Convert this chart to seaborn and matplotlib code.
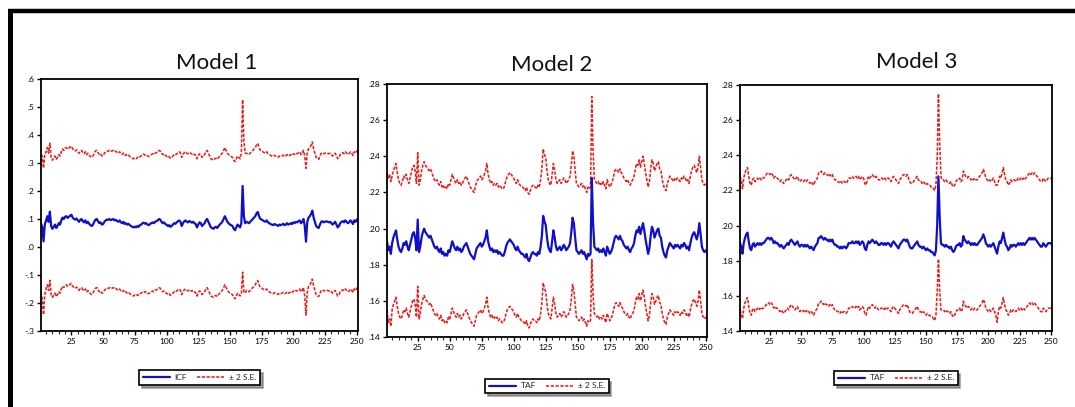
import numpy as np
import pandas as pd
import matplotlib
matplotlib.use("Agg")
import matplotlib.pyplot as plt
import seaborn as sns
from matplotlib.lines import Line2D
from matplotlib.ticker import MultipleLocator

sns.set_style("white")
plt.rcParams['font.family'] = ['Lato', 'DejaVu Sans']

# ---------------- data ----------------
titles = ["Model 1", "Model 2", "Model 3"]
series_names = ["ICF", "TAF", "TAF"]
band_label = "± 2 S.E."
x_ticks = [25, 50, 75, 100, 125, 150, 175, 200, 225, 250]
x_tick_labels = ["25", "50", "75", "100", "125", "150", "175", "200", "225", "250"]
y_ticks_1 = [-0.3, -0.2, -0.1, 0.0, 0.1, 0.2, 0.3, 0.4, 0.5, 0.6]
y_labels_1 = ["-.3", "-.2", "-.1", ".0", ".1", ".2", ".3", ".4", ".5", ".6"]
y_ticks_23 = [0.14, 0.16, 0.18, 0.20, 0.22, 0.24, 0.26, 0.28]
y_labels_23 = [".14", ".16", ".18", ".20", ".22", ".24", ".26", ".28"]

# Model 1 forecast (ICF), observations 1..251
center_1 = [
    .085, .070, .020, .080, .095, .110, .090, .126, .075, .065,
    .072, .080, .068, .075, .085, .080, .095, .105, .100, .108,
    .110, .104, .108, .112, .115, .105, .100, .098, .102, .095,
    .090, .097, .100, .092, .088, .095, .085, .090, .083, .078,
    .075, .080, .090, .098, .100, .092, .085, .088, .080, .082,
    .090, .095, .098, .097, .100, .096, .098, .100, .095, .097,
    .093, .090, .095, .088, .085, .090, .082, .085, .080, .083,
    .078, .075, .072, .070, .073, .070, .075, .072, .078, .080,
    .085, .087, .083, .085, .080, .078, .082, .085, .088, .085,
    .090, .092, .095, .100, .098, .090, .085, .088, .082, .080,
    .075, .078, .072, .075, .080, .085, .083, .088, .092, .095,
    .090, .075, .085, .092, .095, .090, .088, .093, .090, .087,
    .090, .085, .082, .070, .080, .088, .085, .075, .080, .085,
    .095, .100, .090, .080, .070, .068, .065, .070, .072, .068,
    .075, .080, .085, .090, .100, .110, .100, .090, .085, .080,
    .078, .075, .065, .060, .070, .080, .075, .070, .085, .218,
    .110, .085, .090, .088, .085, .090, .095, .100, .105, .110,
    .120, .125, .110, .100, .098, .095, .092, .090, .095, .088,
    .085, .082, .080, .078, .082, .080, .078, .075, .080, .078,
    .080, .083, .078, .080, .085, .080, .082, .085, .082, .088,
    .085, .090, .088, .092, .095, .085, .090, .100, .075, .019,
    .090, .105, .110, .118, .130, .105, .090, .075, .070, .068,
    .080, .090, .092, .088, .090, .092, .090, .088, .090, .085,
    .080, .085, .090, .080, .070, .075, .085, .090, .092, .088,
    .095, .090, .085, .088, .095, .090, .082, .095, .090, .098,
    .090,
]
# two standard errors (band half-width), Model 1
se2_1 = [
    .245, .255, .262, .250, .245, .245, .245, .245, .245, .245,
    .245, .245, .245, .245, .245, .245, .245, .245, .245, .245,
    .245, .245, .245, .245, .245, .245, .245, .245, .245, .245,
    .245, .245, .245, .245, .245, .245, .245, .245, .245, .245,
    .245, .245, .245, .245, .245, .245, .245, .245, .245, .245,
    .245, .245, .245, .245, .245, .245, .245, .245, .245, .245,
    .245, .245, .245, .245, .245, .245, .245, .245, .245, .245,
    .245, .245, .245, .245, .245, .245, .245, .245, .245, .245,
    .245, .245, .245, .245, .245, .245, .245, .245, .245, .245,
    .245, .245, .245, .245, .245, .245, .245, .245, .245, .245,
    .245, .245, .245, .245, .245, .245, .245, .245, .245, .245,
    .245, .245, .245, .245, .245, .245, .245, .245, .245, .245,
    .245, .245, .245, .245, .245, .245, .245, .245, .245, .245,
    .245, .245, .245, .245, .245, .245, .245, .245, .245, .245,
    .245, .245, .245, .245, .245, .245, .245, .245, .245, .245,
    .245, .245, .245, .245, .245, .245, .245, .245, .250, .308,
    .270, .250, .245, .245, .245, .245, .245, .245, .245, .245,
    .245, .245, .245, .245, .245, .245, .245, .245, .245, .245,
    .245, .245, .245, .245, .245, .245, .245, .245, .245, .245,
    .245, .245, .245, .245, .245, .245, .245, .245, .245, .245,
    .245, .245, .245, .245, .245, .245, .245, .245, .250, .262,
    .250, .245, .245, .245, .245, .245, .245, .245, .245, .245,
    .245, .245, .245, .245, .245, .245, .245, .245, .245, .245,
    .245, .245, .245, .245, .245, .245, .245, .245, .245, .245,
    .245, .245, .245, .245, .245, .245, .245, .245, .245, .245,
    .245,
]

# Model 2 forecast (TAF)
center_2 = [
    .193, .188, .190, .186, .192, .195, .197, .199, .194, .190,
    .188, .187, .189, .192, .191, .193, .190, .188, .191, .194,
    .197, .198, .195, .188, .205, .187, .190, .195, .198, .200,
    .198, .197, .196, .195, .196, .194, .192, .190, .189, .190,
    .188, .187, .189, .186, .187, .185, .186, .185, .188, .187,
    .190, .193, .191, .189, .188, .190, .188, .189, .187, .188,
    .190, .191, .192, .190, .188, .186, .185, .184, .183, .186,
    .189, .190, .191, .192, .190, .191, .193, .195, .199, .193,
    .190, .188, .189, .187, .188, .187, .188, .186, .187, .186,
    .185, .185, .187, .190, .192, .193, .194, .193, .192, .191,
    .189, .188, .190, .188, .187, .186, .186, .185, .184, .186,
    .183, .182, .184, .186, .187, .186, .186, .185, .187, .186,
    .190, .196, .207, .204, .202, .195, .190, .188, .187, .193,
    .199, .195, .190, .188, .189, .190, .188, .189, .191, .190,
    .188, .189, .190, .192, .198, .206, .203, .195, .188, .187,
    .186, .187, .188, .186, .187, .185, .183, .186, .185, .186,
    .228, .203, .190, .189, .188, .189, .187, .188, .187, .189,
    .187, .185, .190, .188, .186, .187, .189, .192, .195, .196,
    .195, .194, .196, .194, .193, .191, .190, .189, .190, .188,
    .187, .189, .190, .192, .196, .199, .198, .201, .197, .200,
    .203, .199, .194, .190, .186, .189, .196, .201, .199, .195,
    .197, .199, .200, .196, .195, .190, .187, .185, .184, .188,
    .190, .192, .191, .190, .189, .191, .190, .191, .190, .189,
    .191, .190, .192, .191, .189, .190, .188, .192, .195, .197,
    .198, .196, .194, .197, .203, .197, .190, .188, .187, .188,
    .187,
]
se2_2 = [
    .038, .040, .040, .040, .037, .037, .037, .037, .037, .037,
    .037, .037, .037, .037, .037, .037, .037, .037, .037, .037,
    .037, .037, .037, .037, .037, .037, .037, .037, .037, .037,
    .037, .037, .037, .037, .037, .037, .037, .037, .037, .037,
    .037, .037, .037, .037, .037, .037, .037, .037, .037, .037,
    .037, .037, .037, .037, .037, .037, .037, .037, .037, .037,
    .037, .037, .037, .037, .037, .037, .037, .037, .037, .037,
    .037, .037, .037, .037, .037, .037, .037, .037, .037, .037,
    .037, .037, .037, .037, .037, .037, .037, .037, .037, .037,
    .037, .037, .037, .037, .037, .037, .037, .037, .037, .037,
    .037, .037, .037, .037, .037, .037, .037, .037, .037, .037,
    .037, .037, .037, .037, .037, .037, .037, .037, .037, .037,
    .037, .037, .037, .037, .037, .037, .037, .037, .037, .037,
    .037, .037, .037, .037, .037, .037, .037, .037, .037, .037,
    .037, .037, .037, .037, .037, .037, .037, .037, .037, .037,
    .037, .037, .037, .037, .037, .037, .037, .037, .037, .037,
    .045, .040, .037, .037, .037, .037, .037, .037, .037, .037,
    .037, .037, .037, .037, .037, .037, .037, .037, .037, .037,
    .037, .037, .037, .037, .037, .037, .037, .037, .037, .037,
    .037, .037, .037, .037, .037, .037, .037, .037, .037, .037,
    .037, .037, .037, .037, .037, .037, .037, .037, .037, .037,
    .037, .037, .037, .037, .037, .037, .037, .037, .037, .037,
    .037, .037, .037, .037, .037, .037, .037, .037, .037, .037,
    .037, .037, .037, .037, .037, .037, .037, .037, .037, .037,
    .037, .037, .037, .037, .037, .037, .037, .037, .037, .037,
    .037,
]

# Model 3 forecast (TAF)
center_3 = [
    .190, .188, .184, .190, .193, .195, .196, .191, .187, .186,
    .189, .190, .188, .189, .190, .189, .190, .189, .190, .190,
    .191, .192, .193, .193, .192, .193, .192, .190, .191, .190,
    .190, .189, .188, .189, .188, .187, .188, .189, .190, .189,
    .191, .192, .191, .190, .189, .190, .191, .189, .188, .189,
    .189, .188, .189, .188, .189, .188, .187, .188, .187, .186,
    .188, .189, .190, .193, .193, .194, .193, .192, .193, .192,
    .192, .191, .192, .191, .192, .190, .189, .189, .188, .188,
    .187, .188, .187, .188, .188, .187, .188, .190, .190, .190,
    .191, .190, .190, .191, .190, .191, .189, .190, .191, .190,
    .187, .186, .189, .191, .190, .191, .192, .191, .190, .191,
    .190, .189, .189, .190, .190, .189, .190, .189, .190, .190,
    .189, .188, .190, .191, .190, .189, .188, .187, .189, .190,
    .191, .192, .192, .191, .192, .190, .188, .187, .187, .188,
    .189, .190, .191, .189, .188, .188, .187, .188, .187, .186,
    .187, .186, .186, .185, .185, .184, .183, .186, .200, .228,
    .205, .190, .189, .189, .188, .189, .188, .188, .187, .188,
    .186, .185, .186, .188, .189, .189, .190, .188, .189, .194,
    .192, .191, .190, .191, .190, .189, .190, .189, .190, .189,
    .189, .190, .191, .192, .193, .195, .193, .190, .189, .188,
    .189, .188, .189, .190, .188, .186, .184, .188, .191, .190,
    .193, .196, .192, .189, .188, .186, .187, .189, .188, .189,
    .189, .188, .189, .190, .189, .190, .189, .190, .189, .190,
    .191, .192, .193, .192, .193, .192, .193, .192, .191, .190,
    .189, .188, .188, .190, .189, .188, .189, .190, .190, .190,
    .189,
]
se2_3 = [
    .038, .038, .037, .037, .037, .037, .037, .037, .037, .037,
    .037, .037, .037, .037, .037, .037, .037, .037, .037, .037,
    .037, .037, .037, .037, .037, .037, .037, .037, .037, .037,
    .037, .037, .037, .037, .037, .037, .037, .037, .037, .037,
    .037, .037, .037, .037, .037, .037, .037, .037, .037, .037,
    .037, .037, .037, .037, .037, .037, .037, .037, .037, .037,
    .037, .037, .037, .037, .037, .037, .037, .037, .037, .037,
    .037, .037, .037, .037, .037, .037, .037, .037, .037, .037,
    .037, .037, .037, .037, .037, .037, .037, .037, .037, .037,
    .037, .037, .037, .037, .037, .037, .037, .037, .037, .037,
    .037, .037, .037, .037, .037, .037, .037, .037, .037, .037,
    .037, .037, .037, .037, .037, .037, .037, .037, .037, .037,
    .037, .037, .037, .037, .037, .037, .037, .037, .037, .037,
    .037, .037, .037, .037, .037, .037, .037, .037, .037, .037,
    .037, .037, .037, .037, .037, .037, .037, .037, .037, .037,
    .037, .037, .037, .037, .037, .037, .037, .037, .038, .047,
    .042, .038, .037, .037, .037, .037, .037, .037, .037, .037,
    .037, .037, .037, .037, .037, .037, .037, .037, .037, .037,
    .037, .037, .037, .037, .037, .037, .037, .037, .037, .037,
    .037, .037, .037, .037, .037, .037, .037, .037, .037, .037,
    .037, .037, .037, .037, .037, .037, .039, .037, .037, .037,
    .037, .037, .037, .037, .037, .037, .037, .037, .037, .037,
    .037, .037, .037, .037, .037, .037, .037, .037, .037, .037,
    .037, .037, .037, .037, .037, .037, .037, .037, .037, .037,
    .037, .037, .037, .037, .037, .037, .037, .037, .037, .037,
    .037,
]

# ---------------- figure ----------------
W, H = 1075, 407
fig = plt.figure(figsize=(W / 100, H / 100), dpi=100)
fig.patch.set_facecolor("white")

def fx(px):
    return px / W

def fy(py):
    return 1 - py / H

# axes boxes in pixel coords: left, top, right, bottom
boxes = [(41, 79, 358, 331), (387, 84, 707, 337), (740, 85, 1052, 331)]
title_pos = [(217, 63), (552, 65), (917, 62)]
legend_pos = [(199.5, 377.5), (547, 386), (896, 378)]
centers = [center_1, center_2, center_3]
se2s = [se2_1, se2_2, se2_3]
yticks = [y_ticks_1, y_ticks_23, y_ticks_23]
ylabels = [y_labels_1, y_labels_23, y_labels_23]
ylims = [(-0.3, 0.6), (0.14, 0.28), (0.14, 0.28)]

BLUE = "#1010c8"
RED = "#e8201c"
DASH = (0, (2.0, 1.0))

for i in range(3):
    l, t, r, b = boxes[i]
    ax = fig.add_axes([fx(l), fy(b), (r - l) / W, (b - t) / H])
    c = np.array(centers[i])
    s = np.array(se2s[i])
    n = len(c)
    df = pd.DataFrame({"obs": np.arange(1, n + 1), "center": c,
                       "upper": c + s, "lower": c - s})
    sns.lineplot(data=df, x="obs", y="upper", ax=ax, color=RED, linewidth=1.15,
                 linestyle=DASH)
    sns.lineplot(data=df, x="obs", y="lower", ax=ax, color=RED, linewidth=1.15,
                 linestyle=DASH)
    sns.lineplot(data=df, x="obs", y="center", ax=ax, color=BLUE, linewidth=1.6)

    ax.set_xlim(1, n)
    ax.set_ylim(*ylims[i])
    ax.set_xticks(x_ticks)
    ax.set_xticklabels(x_tick_labels)
    ax.xaxis.set_minor_locator(MultipleLocator(5))
    ax.set_yticks(yticks[i])
    ax.set_yticklabels(ylabels[i])
    ax.set_xlabel("")
    ax.set_ylabel("")
    ax.tick_params(axis="both", which="major", direction="out", length=3,
                   width=1, labelsize=6, pad=2, colors="black")
    ax.tick_params(axis="x", which="minor", direction="out", length=2,
                   width=0.8, bottom=True)
    ax.tick_params(axis="x", which="both", bottom=True, top=False)
    ax.tick_params(axis="y", which="both", left=True, right=False)
    for sp in ax.spines.values():
        sp.set_visible(True)
        sp.set_color("black")
        sp.set_linewidth(1.3)

    fig.text(fx(title_pos[i][0]), fy(title_pos[i][1]), titles[i],
             ha="center", va="center", fontsize=16, color="#111111")

    handles = [Line2D([], [], color=BLUE, linewidth=1.6),
               Line2D([], [], color=RED, linewidth=1.15, linestyle=DASH)]
    leg = ax.legend(handles, [series_names[i], band_label], loc="center",
                    bbox_to_anchor=(fx(legend_pos[i][0]), fy(legend_pos[i][1])),
                    bbox_transform=fig.transFigure, ncol=2, fontsize=6,
                    frameon=True, fancybox=False, shadow=True,
                    handlelength=3.2, columnspacing=1.2, handletextpad=0.6,
                    borderpad=0.45)
    leg.get_frame().set_edgecolor("black")
    leg.get_frame().set_linewidth(1.2)

# outer black frame (top and left edges)
fig.add_artist(Line2D([fx(8), 1.0], [fy(11), fy(11)], transform=fig.transFigure,
                      color="black", linewidth=3.2, solid_capstyle="butt"))
fig.add_artist(Line2D([fx(9.5), fx(9.5)], [fy(11), 0.0], transform=fig.transFigure,
                      color="black", linewidth=3.6, solid_capstyle="butt"))

fig.savefig("out.png", dpi=100)
